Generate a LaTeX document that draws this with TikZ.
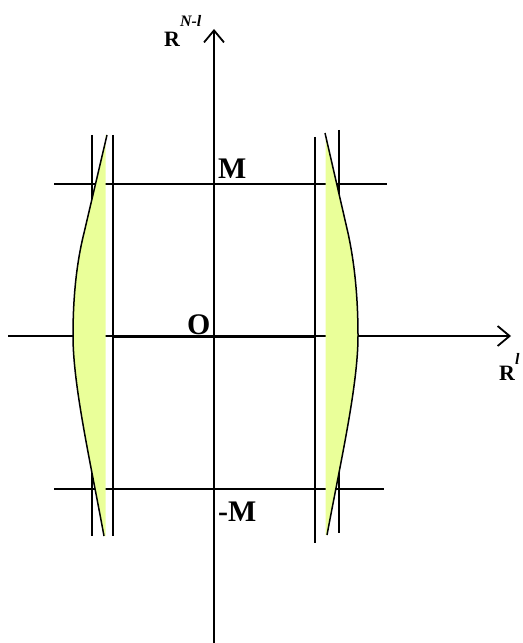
\documentclass[tikz,border=0pt]{standalone}
\usepackage{fontspec}
\setmainfont{Liberation Serif}
\usetikzlibrary{arrows.meta}
\definecolor{lensfill}{RGB}{234,255,153}

\begin{document}
\begin{tikzpicture}[
        x=1bp, y=-1bp,
        guide/.style={line width=1.3bp},
        axis/.style={line width=1.3bp, -{Straight Barb[length=12bp, width=20bp, line width=1.8bp]}},
        segment/.style={line width=3bp},
        lens/.style={fill=lensfill},
        bound/.style={line width=1.5bp},
        label_big/.style={inner sep=0pt, anchor=base west, font=\bfseries\fontsize{30}{30}\selectfont},
        label_space/.style={inner sep=0pt, anchor=base west, font=\bfseries\fontsize{22}{22}\selectfont}
    ]
    \useasboundingbox (0,0) rectangle (523,643);

    % axes
    \coordinate (xstart) at (8,336);
    \coordinate (xend) at (511,336);
    \coordinate (ystart) at (214,643);
    \coordinate (yend) at (214,29);
    \draw[axis] (xstart) -- (xend);
    \draw[axis] (ystart) -- (yend);

    % levels M and -M
    \coordinate (mleft) at (54,184);
    \coordinate (mright) at (387,184);
    \coordinate (mmleft) at (54,489);
    \coordinate (mmright) at (384,489);
    \draw[guide] (mleft) -- (mright);
    \draw[guide] (mmleft) -- (mmright);

    % vertical bounds
    \coordinate (la1) at (92,135);  \coordinate (lb1) at (92,536);
    \coordinate (la2) at (113,135); \coordinate (lb2) at (113,536);
    \coordinate (ra1) at (315,137); \coordinate (rb1) at (315,543);
    \coordinate (ra2) at (339,130); \coordinate (rb2) at (339,533);
    \draw[guide] (la1) -- (lb1);
    \draw[guide] (la2) -- (lb2);
    \draw[guide] (ra1) -- (rb1);
    \draw[guide] (ra2) -- (rb2);

    % segment on the axis
    \coordinate (segl) at (113,336);
    \coordinate (segr) at (315,336);
    \draw[segment] (segl) -- (segr);

    % left lens
    \fill[lens] (107,135) -- (84,233) .. controls (76,265) and (73,300) .. (73,336)
        .. controls (73,385) and (90,460) .. (104,536) -- (105.5,536) -- (105.5,135) -- cycle;
    \draw[bound] (107,135) -- (84,233) .. controls (76,265) and (73,300) .. (73,336)
        .. controls (73,385) and (90,460) .. (104,536);

    % right lens
    \fill[lens] (325,133) -- (348,233) .. controls (355,265) and (358,300) .. (358,336)
        .. controls (358,385) and (341,460) .. (327,535) -- (325.5,535) -- (325.5,133) -- cycle;
    \draw[bound] (325,133) -- (348,233) .. controls (355,265) and (358,300) .. (358,336)
        .. controls (358,385) and (341,460) .. (327,535);

    % labels
    \node[label_big] (lblM) at (218,179) {M};
    \node[label_big] (lblO) at (187,334) {O};
    \node[label_big] (lblmM) at (218,521) {-M};
    \node[label_space] (lblRN) at (164,47) {R\raisebox{20bp}{\fontsize{16}{16}\selectfont\itshape N-l}};
    \node[label_space] (lblRl) at (499,380) {R\raisebox{16bp}{\fontsize{16}{16}\selectfont\itshape l}};
\end{tikzpicture}
\end{document}
